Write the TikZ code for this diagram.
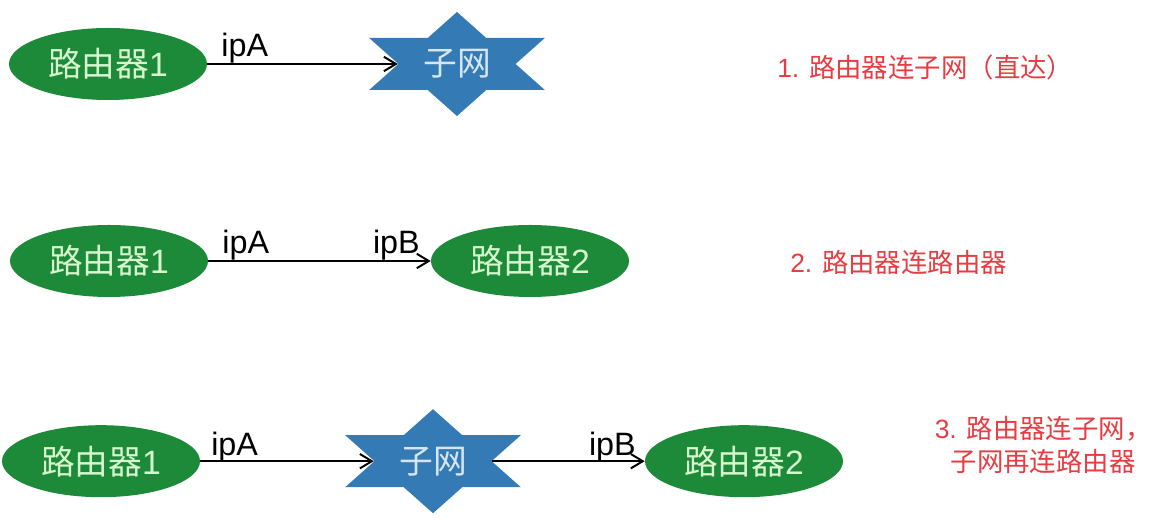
\documentclass[tikz,border=0pt]{standalone}
\usepackage{fontspec}
\setmainfont{Liberation Sans}
\newfontfamily\cjk{Noto Sans CJK SC}
\usetikzlibrary{shapes, arrows.meta}
\definecolor{routergreen}{RGB}{28,138,56}
\definecolor{routertext}{RGB}{214,246,206}
\definecolor{subnetblue}{RGB}{52,122,180}
\definecolor{subnettext}{RGB}{212,230,244}
\definecolor{notered}{RGB}{230,60,66}

\begin{document}
\begin{tikzpicture}[
router/.style={ellipse, minimum width=4.95cm, minimum height=1.8cm, fill=routergreen, text=routertext, font=\fontsize{24}{28}\selectfont},
subnet/.style={star, star points=6, star point ratio=1.732, minimum size=2.6cm, inner sep=0pt, fill=subnetblue, xscale=1.95, transform shape},
subnetlabel/.style={text=subnettext, font=\fontsize{24}{28}\selectfont\cjk},
link/.style={-{Straight Barb[length=3mm,width=3.6mm]}, line width=1.4pt},
ip/.style={font=\fontsize{23}{26}\selectfont, inner sep=0pt},
note/.style={text=notered, font=\fontsize{18.8}{24}\selectfont, align=center, inner sep=0pt},
]
\useasboundingbox (0,0) rectangle (28.825,13);

% 1. router to subnet
\node (R1a) [router] at (2.7,11.4) {{\cjk 路由器}1};
\node (S1) [subnet] at (11.425,11.4) {};
\node (s1) [subnetlabel] at (S1) {子网};
\draw[link] (R1a) -- (S1) node[ip, at start, anchor=base west, xshift=0.33cm, yshift=0.18cm] {ipA};
\node (t1) [note, anchor=west] at (19.425,11.325) {1. {\cjk 路由器连子网（直达）}};

% 2. router to router
\node (R2a) [router] at (2.725,6.475) {{\cjk 路由器}1};
\node (R2b) [router] at (13.25,6.475) {{\cjk 路由器}2};
\draw[link] (R2a) -- (R2b) node[ip, at start, anchor=base west, xshift=0.33cm, yshift=0.18cm] {ipA}
  node[ip, at end, anchor=base east, xshift=-0.25cm, yshift=0.18cm] {ipB};
\node (t2) [note, anchor=west] at (19.75,6.45) {2. {\cjk 路由器连路由器}};

% 3. router to subnet to router
\node (R3a) [router] at (2.525,1.47) {{\cjk 路由器}1};
\node (S3) [subnet] at (10.825,1.47) {};
\node (s3) [subnetlabel] at (S3) {子网};
\node (R3b) [router] at (18.6,1.47) {{\cjk 路由器}2};
\draw[link] (R3a) -- (S3) node[ip, at start, anchor=base west, xshift=0.25cm, yshift=0.15cm] {ipA};
\draw[link] (S3) -- (R3b) node[ip, at end, anchor=base east, xshift=-0.2cm, yshift=0.15cm] {ipB};
\node (t3) [note] at (26.08,1.875) {3. {\cjk 路由器连子网，}\\{\cjk 子网再连路由器}};

\end{tikzpicture}
\end{document}
